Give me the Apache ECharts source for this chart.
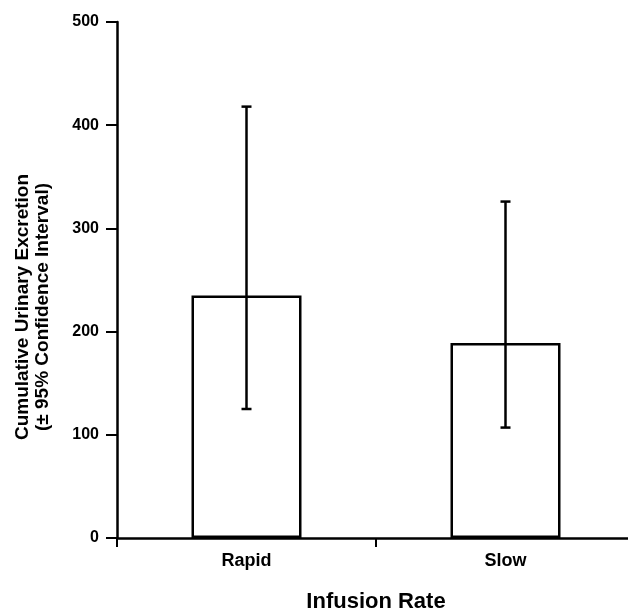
<!DOCTYPE html>
<html>
<head>
<meta charset="utf-8">
<script src="https://cdn.jsdelivr.net/npm/echarts@6/dist/echarts.min.js"></script>
<style>
  html, body { margin: 0; padding: 0; background: #fff; }
  #main { width: 628px; height: 614px; }
</style>
</head>
<body>
<div id="main"></div>
<script>
// data
var categories = ['Rapid', 'Slow'];
var means = [235, 189];
var ciLow = [125, 107];
var ciHigh = [418, 326];
var yTicks = [0, 100, 200, 300, 400, 500];

var font = 'Liberation Sans, Arial, Helvetica, sans-serif';

var errData = [];
for (var i = 0; i < categories.length; i++) {
    errData.push([i, ciLow[i], ciHigh[i]]);
}

var chart = echarts.init(document.getElementById('main'));

var option = {
    animation: false,
    backgroundColor: '#fff',
    // grid runs past the right edge like the original, so no clamping
    grid: { left: 117, top: 22, width: 518, bottom: 76, containLabel: false, outerBoundsMode: 'none' },
    xAxis: {
        type: 'category',
        data: categories,
        boundaryGap: true,
        name: 'Infusion Rate',
        nameLocation: 'middle',
        nameGap: 53,
        nameTextStyle: { fontFamily: font, fontWeight: 'bold', fontSize: 22, color: '#000' },
        axisLine: { lineStyle: { color: '#000', width: 2.5 } },
        axisTick: { show: true, length: 9, inside: false, lineStyle: { color: '#000', width: 2 } },
        axisLabel: { fontFamily: font, fontWeight: 'bold', fontSize: 18, color: '#000', margin: 14 },
        splitLine: { show: false }
    },
    yAxis: {
        type: 'value',
        min: yTicks[0],
        max: yTicks[yTicks.length - 1],
        interval: 100,
        axisLine: { show: true, lineStyle: { color: '#000', width: 2.5 } },
        axisTick: { show: true, length: 11, lineStyle: { color: '#000', width: 2 } },
        axisLabel: { fontFamily: font, fontWeight: 'bold', fontSize: 16, color: '#000', margin: 18 },
        splitLine: { show: false }
    },
    graphic: [{
        type: 'text',
        x: 33,
        y: 307,
        rotation: Math.PI / 2,
        style: {
            text: 'Cumulative Urinary Excretion\n(± 95% Confidence Interval)',
            fontFamily: font,
            fontWeight: 'bold',
            fontSize: 19,
            lineHeight: 20,
            fill: '#000',
            align: 'center',
            verticalAlign: 'middle',
            textAlign: 'center',
            textVerticalAlign: 'middle'
        }
    }],
    series: [
        {
            type: 'bar',
            data: means,
            barWidth: 110,
            itemStyle: { color: '#fff', borderColor: '#000', borderWidth: 2.5 },
            z: 2
        },
        {
            //error bars (95% CI)
            type: 'custom',
            data: errData,
            z: 3,
            renderItem: function (params, api) {
                var x = api.value(0);
                var lo = api.coord([x, api.value(1)]);
                var hi = api.coord([x, api.value(2)]);
                var cap = 5;
                var st = { stroke: '#000', lineWidth: 2.5 };
                return {
                    type: 'group',
                    children: [
                        { type: 'line', shape: { x1: lo[0], y1: lo[1], x2: hi[0], y2: hi[1] }, style: st },
                        { type: 'line', shape: { x1: hi[0] - cap, y1: hi[1], x2: hi[0] + cap, y2: hi[1] }, style: st },
                        { type: 'line', shape: { x1: lo[0] - cap, y1: lo[1], x2: lo[0] + cap, y2: lo[1] }, style: st }
                    ]
                };
            }
        }
    ]
};

chart.setOption(option);
</script>
</body>
</html>
